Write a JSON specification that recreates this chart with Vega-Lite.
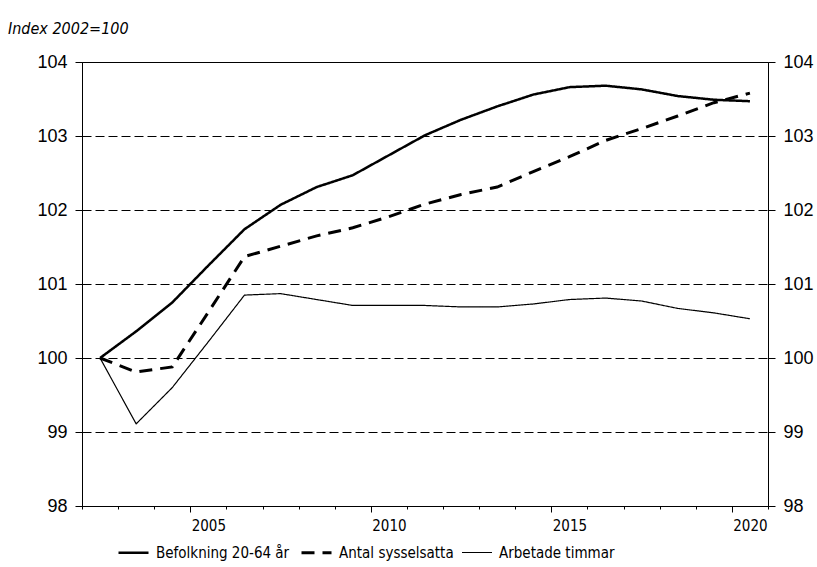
{
  "$schema": "https://vega.github.io/schema/vega-lite/v6.json",
  "width": 686,
  "height": 444,
  "autosize": {"type": "none"},
  "padding": {"left": 82, "top": 62, "right": 49, "bottom": 61},
  "background": "white",
  "config": {
    "view": {"stroke": "black", "strokeWidth": 1},
    "font": "Liberation Sans",
    "axis": {"domainColor": "black", "tickColor": "black", "labelColor": "black", "titleColor": "black"}
  },
  "title": {
    "text": "Index 2002=100",
    "anchor": "start",
    "frame": "group",
    "dx": -74,
    "offset": 16,
    "font": "DejaVu Sans Condensed, Liberation Sans",
    "fontStyle": "italic",
    "fontWeight": "normal",
    "fontSize": 16,
    "color": "black"
  },
  "datasets": {
    "d": [
      {"year": 2002, "series": "Befolkning 20-64 år", "value": 100},
      {"year": 2003, "series": "Befolkning 20-64 år", "value": 100.36},
      {"year": 2004, "series": "Befolkning 20-64 år", "value": 100.75},
      {"year": 2005, "series": "Befolkning 20-64 år", "value": 101.25},
      {"year": 2006, "series": "Befolkning 20-64 år", "value": 101.74},
      {"year": 2007, "series": "Befolkning 20-64 år", "value": 102.07},
      {"year": 2008, "series": "Befolkning 20-64 år", "value": 102.31},
      {"year": 2009, "series": "Befolkning 20-64 år", "value": 102.47},
      {"year": 2010, "series": "Befolkning 20-64 år", "value": 102.74},
      {"year": 2011, "series": "Befolkning 20-64 år", "value": 103.01},
      {"year": 2012, "series": "Befolkning 20-64 år", "value": 103.22},
      {"year": 2013, "series": "Befolkning 20-64 år", "value": 103.40},
      {"year": 2014, "series": "Befolkning 20-64 år", "value": 103.56},
      {"year": 2015, "series": "Befolkning 20-64 år", "value": 103.66},
      {"year": 2016, "series": "Befolkning 20-64 år", "value": 103.68},
      {"year": 2017, "series": "Befolkning 20-64 år", "value": 103.63},
      {"year": 2018, "series": "Befolkning 20-64 år", "value": 103.54},
      {"year": 2019, "series": "Befolkning 20-64 år", "value": 103.49},
      {"year": 2020, "series": "Befolkning 20-64 år", "value": 103.47},
      {"year": 2002, "series": "Antal sysselsatta", "value": 100},
      {"year": 2003, "series": "Antal sysselsatta", "value": 99.81},
      {"year": 2004, "series": "Antal sysselsatta", "value": 99.88},
      {"year": 2005, "series": "Antal sysselsatta", "value": 100.62},
      {"year": 2006, "series": "Antal sysselsatta", "value": 101.37},
      {"year": 2007, "series": "Antal sysselsatta", "value": 101.51},
      {"year": 2008, "series": "Antal sysselsatta", "value": 101.65},
      {"year": 2009, "series": "Antal sysselsatta", "value": 101.76},
      {"year": 2010, "series": "Antal sysselsatta", "value": 101.91},
      {"year": 2011, "series": "Antal sysselsatta", "value": 102.08},
      {"year": 2012, "series": "Antal sysselsatta", "value": 102.21},
      {"year": 2013, "series": "Antal sysselsatta", "value": 102.31},
      {"year": 2014, "series": "Antal sysselsatta", "value": 102.52},
      {"year": 2015, "series": "Antal sysselsatta", "value": 102.72},
      {"year": 2016, "series": "Antal sysselsatta", "value": 102.94},
      {"year": 2017, "series": "Antal sysselsatta", "value": 103.10},
      {"year": 2018, "series": "Antal sysselsatta", "value": 103.27},
      {"year": 2019, "series": "Antal sysselsatta", "value": 103.45},
      {"year": 2020, "series": "Antal sysselsatta", "value": 103.58},
      {"year": 2002, "series": "Arbetade timmar", "value": 100},
      {"year": 2003, "series": "Arbetade timmar", "value": 99.11},
      {"year": 2004, "series": "Arbetade timmar", "value": 99.60},
      {"year": 2005, "series": "Arbetade timmar", "value": 100.22},
      {"year": 2006, "series": "Arbetade timmar", "value": 100.85},
      {"year": 2007, "series": "Arbetade timmar", "value": 100.87},
      {"year": 2008, "series": "Arbetade timmar", "value": 100.79},
      {"year": 2009, "series": "Arbetade timmar", "value": 100.71},
      {"year": 2010, "series": "Arbetade timmar", "value": 100.71},
      {"year": 2011, "series": "Arbetade timmar", "value": 100.71},
      {"year": 2012, "series": "Arbetade timmar", "value": 100.69},
      {"year": 2013, "series": "Arbetade timmar", "value": 100.69},
      {"year": 2014, "series": "Arbetade timmar", "value": 100.73},
      {"year": 2015, "series": "Arbetade timmar", "value": 100.79},
      {"year": 2016, "series": "Arbetade timmar", "value": 100.81},
      {"year": 2017, "series": "Arbetade timmar", "value": 100.77},
      {"year": 2018, "series": "Arbetade timmar", "value": 100.67},
      {"year": 2019, "series": "Arbetade timmar", "value": 100.61},
      {"year": 2020, "series": "Arbetade timmar", "value": 100.53}
    ]
  },
  "data": {"name": "d"},
  "layer": [
    {
      "mark": {"type": "line", "color": "black"},
      "encoding": {
        "x": {
          "field": "year",
          "type": "quantitative",
          "scale": {"domain": [2001.5, 2020.5], "nice": false, "zero": false},
          "axis": {
            "title": null,
            "grid": false,
            "labels": false,
            "values": [2001.5, 2002.5, 2003.5, 2004.5, 2005.5, 2006.5, 2007.5, 2008.5, 2009.5, 2010.5, 2011.5, 2012.5, 2013.5, 2014.5, 2015.5, 2016.5, 2017.5, 2018.5, 2019.5, 2020.5],
            "tickSize": {"condition": {"test": "(datum.value + 0.5) % 5 == 0", "value": 6}, "value": 3}
          }
        },
        "y": {
          "field": "value",
          "type": "quantitative",
          "scale": {"domain": [98, 104], "nice": false, "zero": false},
          "axis": {
            "title": null,
            "values": [98, 99, 100, 101, 102, 103, 104],
            "format": "d",
            "grid": true,
            "gridDash": [9, 4],
            "gridColor": "black",
            "gridOpacity": 1,
            "tickSize": 7,
            "labelPadding": 8,
            "labelFontSize": 18
          }
        },
        "strokeDash": {
          "field": "series",
          "type": "nominal",
          "sort": null,
          "scale": {"domain": ["Befolkning 20-64 år", "Antal sysselsatta", "Arbetade timmar"], "range": [[1, 0], [13, 8], [1, 0]]},
          "legend": {
            "title": null,
            "orient": "none",
            "legendX": 35,
            "legendY": 474,
            "direction": "horizontal",
            "symbolType": "stroke",
            "symbolSize": 900,
            "symbolStrokeColor": "black",
            "labelFont": "DejaVu Sans Condensed, Liberation Sans",
            "labelFontSize": 15,
            "labelColor": "black",
            "labelOffset": 6,
            "columnPadding": 5,
            "padding": 0
          }
        },
        "strokeWidth": {
          "field": "series",
          "type": "nominal",
          "sort": null,
          "scale": {"type": "ordinal", "domain": ["Befolkning 20-64 år", "Antal sysselsatta", "Arbetade timmar"], "range": [2.5, 3, 1.2]},
          "legend": {
            "title": null,
            "orient": "none",
            "legendX": 35,
            "legendY": 474,
            "direction": "horizontal",
            "symbolType": "stroke",
            "symbolSize": 900,
            "symbolStrokeColor": "black",
            "labelFont": "DejaVu Sans Condensed, Liberation Sans",
            "labelFontSize": 15,
            "labelColor": "black",
            "labelOffset": 6,
            "columnPadding": 5,
            "padding": 0
          }
        }
      }
    },
    {
      "mark": {"type": "line", "opacity": 0},
      "encoding": {
        "x": {
          "field": "year",
          "type": "quantitative",
          "axis": {
            "orient": "bottom",
            "title": null,
            "grid": false,
            "domain": false,
            "ticks": false,
            "values": [2005, 2010, 2015, 2020],
            "format": "d",
            "labelPadding": 12,
            "labelFont": "DejaVu Sans Condensed, Liberation Sans",
            "labelFontSize": 15,
            "labelOverlap": false,
            "labelBound": false,
            "labelFlush": false
          }
        },
        "y": {
          "field": "value",
          "type": "quantitative",
          "axis": {
            "orient": "right",
            "title": null,
            "values": [98, 99, 100, 101, 102, 103, 104],
            "format": "d",
            "grid": false,
            "tickSize": 7,
            "labelPadding": 8,
            "labelFontSize": 18
          }
        },
        "detail": {"field": "series"}
      }
    }
  ],
  "resolve": {"axis": {"y": "independent", "x": "independent"}}
}
